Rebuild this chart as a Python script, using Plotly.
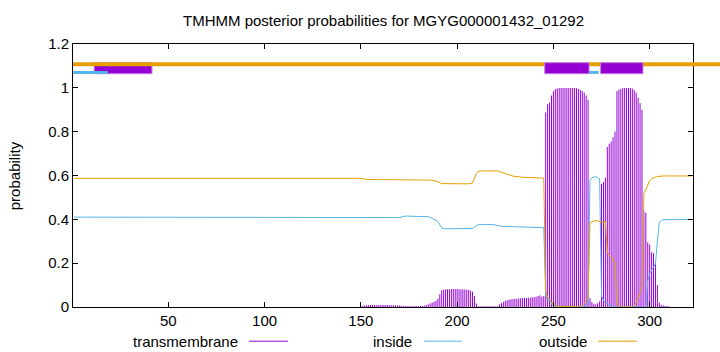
import plotly.graph_objects as go

# ---------------- data ----------------
title_text = "TMHMM posterior probabilities for MGYG000001432_01292"
x_tickvals = [50, 100, 150, 200, 250, 300]
y_tickvals = [0, 0.2, 0.4, 0.6, 0.8, 1.0, 1.2]
legend_names = ["transmembrane", "inside", "outside"]

# transmembrane posterior per residue (residues 150..310; ~0 elsewhere)
tm_res = list(range(150, 311))
tm_prob = [
    0.003, 0.005, 0.007, 0.008, 0.008, 0.009, 0.009, 0.009, 0.009, 0.009,  # 150-159
    0.009, 0.009, 0.009, 0.009, 0.009, 0.008, 0.008, 0.008, 0.008, 0.007,  # 160-169
    0.007, 0.006, 0.005, 0.004, 0.004, 0.004, 0.004, 0.004, 0.004, 0.004,  # 170-179
    0.004, 0.005, 0.005, 0.006, 0.009, 0.012, 0.016, 0.020, 0.024, 0.029,  # 180-189
    0.038, 0.058, 0.077, 0.079, 0.080, 0.081, 0.081, 0.082, 0.082, 0.082,  # 190-199
    0.082, 0.081, 0.081, 0.080, 0.080, 0.079, 0.078, 0.074, 0.070, 0.050,  # 200-209
    0.016, 0.004, 0.003, 0.003, 0.003, 0.003, 0.003, 0.003, 0.003, 0.003,  # 210-219
    0.003, 0.003, 0.012, 0.018, 0.024, 0.028, 0.031, 0.033, 0.035, 0.036,  # 220-229
    0.037, 0.038, 0.039, 0.040, 0.040, 0.041, 0.041, 0.042, 0.043, 0.044,  # 230-239
    0.045, 0.047, 0.050, 0.053, 0.047, 0.050, 0.888, 0.925, 0.932, 0.965,  # 240-249
    0.985, 0.994, 0.997, 0.999, 0.999, 0.999, 0.999, 0.999, 0.999, 0.999,  # 250-259
    0.999, 0.999, 0.998, 0.995, 0.990, 0.985, 0.978, 0.965, 0.945, 0.040,  # 260-269
    0.022, 0.015, 0.012, 0.017, 0.025, 0.562, 0.570, 0.590, 0.730, 0.745,  # 270-279
    0.755, 0.775, 0.800, 0.985, 0.992, 0.995, 0.999, 0.999, 0.999, 0.999,  # 280-289
    0.999, 0.997, 0.990, 0.978, 0.955, 0.930, 0.900, 0.440, 0.430, 0.295,  # 290-299
    0.285, 0.250, 0.245, 0.205, 0.100, 0.020, 0.010, 0.007, 0.005, 0.004,  # 300-309
    0.003,                                                                  # 310
]
assert len(tm_res) == len(tm_prob)

# inside posterior (breakpoints of the curve)
inside_x = [1, 150, 153, 170, 173, 183, 185, 187, 189, 190, 191, 192, 193, 206,
            208, 209, 210, 211, 219, 221, 223, 245, 246, 247, 248, 249, 250, 264,
            266, 267, 268, 269, 270, 272, 273, 274, 275, 276, 277, 278, 279, 280,
            281, 298, 299, 300, 301, 302, 303, 304, 305, 306, 307, 322]
inside_y = [0.410, 0.410, 0.408, 0.408, 0.415, 0.415, 0.412, 0.405, 0.395, 0.390,
            0.375, 0.360, 0.357, 0.356, 0.358, 0.365, 0.372, 0.376, 0.376, 0.372,
            0.368, 0.362, 0.050, 0.035, 0.030, 0.015, 0.005, 0.000, 0.005, 0.005,
            0.015, 0.577, 0.590, 0.595, 0.590, 0.585, 0.050, 0.030, 0.020, 0.015,
            0.010, 0.005, 0.000, 0.000, 0.120, 0.153, 0.170, 0.185, 0.197, 0.300,
            0.385, 0.395, 0.398, 0.400]

# outside posterior (breakpoints of the curve)
outside_x = [1, 150, 153, 183, 186, 188, 190, 191, 192, 206, 208, 209, 210, 211,
             213, 221, 223, 226, 229, 234, 239, 243, 245, 246, 247, 248, 249, 250,
             251, 264, 265, 266, 267, 268, 269, 270, 272, 274, 276, 277, 278, 279,
             280, 281, 282, 283, 284, 285, 291, 292, 293, 294, 295, 296, 297, 298,
             299, 300, 301, 302, 303, 304, 305, 307, 322]
outside_y = [0.587, 0.587, 0.582, 0.581, 0.579, 0.577, 0.572, 0.567, 0.563, 0.562,
             0.566, 0.585, 0.610, 0.618, 0.621, 0.621, 0.615, 0.603, 0.597, 0.592,
             0.591, 0.589, 0.588, 0.070, 0.045, 0.035, 0.020, 0.010, 0.004, 0.000,
             0.005, 0.015, 0.030, 0.045, 0.383, 0.390, 0.395, 0.390, 0.385, 0.390,
             0.250, 0.236, 0.230, 0.220, 0.190, 0.010, 0.005, 0.000, 0.000, 0.005,
             0.020, 0.040, 0.065, 0.090, 0.520, 0.535, 0.555, 0.577, 0.585, 0.590,
             0.593, 0.595, 0.596, 0.598, 0.598]

# predicted topology segments (first residue, last residue)
topo_outside = [(1, 322)]
topo_inside = [(1, 18), (269, 273)]
topo_tm_under = [(12, 41)]
topo_tm = [(246, 268), (275, 296)]

# ---------------- style ----------------
PURPLE = "#9400d3"
CYAN = "#56b4e9"
ORANGE = "#e69f00"
FONT = "Liberation Sans, Arial, sans-serif"
FS = 15

X_RANGE = [0.5, 322.5]
Y_RANGE = [0, 1.2]

# ---------------- figure ----------------
fig = go.Figure()

# transmembrane as impulses
imp_x, imp_y = [], []
for r, p in zip(tm_res, tm_prob):
    imp_x += [r, r, None]
    imp_y += [0, p, None]
fig.add_trace(go.Scatter(x=imp_x, y=imp_y, mode="lines",
                         line=dict(color=PURPLE, width=1), hoverinfo="skip",
                         showlegend=False))
fig.add_trace(go.Scatter(x=inside_x, y=inside_y, mode="lines",
                         line=dict(color=CYAN, width=1), showlegend=False))
fig.add_trace(go.Scatter(x=outside_x, y=outside_y, mode="lines",
                         line=dict(color=ORANGE, width=1), showlegend=False))

shapes = []
TM_LO, TM_HI = 1.0645, 1.1147
IN_Y = 1.0705
OUT_Y = 1.108

for a, b in topo_tm_under:
    shapes.append(dict(type="rect", xref="x", yref="y", x0=a - 0.5, x1=b + 0.5,
                       y0=TM_LO, y1=TM_HI, fillcolor=PURPLE,
                       line=dict(color="#c27ae6", width=1), layer="above"))
# outside line: the original runs it past the right border to the image edge
for a, b in topo_outside:
    shapes.append(dict(type="line", xref="paper", yref="y", x0=0, x1=1.045,
                       y0=OUT_Y, y1=OUT_Y, line=dict(color=ORANGE, width=4),
                       layer="above"))
for a, b in topo_inside:
    shapes.append(dict(type="line", xref="x", yref="y", x0=a - 0.5, x1=b + 0.5,
                       y0=IN_Y, y1=IN_Y, line=dict(color=CYAN, width=3),
                       layer="above"))
for a, b in topo_tm:
    shapes.append(dict(type="rect", xref="x", yref="y", x0=a - 0.5, x1=b + 0.5,
                       y0=TM_LO, y1=TM_HI, fillcolor=PURPLE,
                       line=dict(color="#c27ae6", width=1), layer="above"))

# legend (gnuplot style: text, then line sample)
leg_y = -0.130
leg_text_right = [0.269, 0.550, 0.832]
leg_line = [(0.284, 0.347), (0.566, 0.627), (0.847, 0.910)]
leg_colors = [PURPLE, CYAN, ORANGE]
annotations = []
for name, xr, (l0, l1), c in zip(legend_names, leg_text_right, leg_line, leg_colors):
    annotations.append(dict(text=name, xref="paper", yref="paper", x=xr, y=leg_y,
                            xanchor="right", yanchor="middle", showarrow=False,
                            font=dict(family=FONT, size=FS, color="#000")))
    shapes.append(dict(type="line", xref="paper", yref="paper", x0=l0, x1=l1,
                       y0=leg_y, y1=leg_y, line=dict(color=c, width=1)))

annotations.append(dict(text=title_text, xref="paper", yref="paper", x=0.5, y=1.09,
                        xanchor="center", yanchor="middle", showarrow=False,
                        font=dict(family=FONT, size=FS, color="#000")))
annotations.append(dict(text="probability", xref="paper", yref="paper", x=-0.094,
                        y=0.5, xanchor="center", yanchor="middle", textangle=-90,
                        showarrow=False, font=dict(family=FONT, size=FS, color="#000")))

axis_common = dict(showline=True, linecolor="#000", linewidth=1, mirror="ticks",
                   ticks="inside", ticklen=5, tickcolor="#000", showgrid=False,
                   zeroline=False, tickfont=dict(family=FONT, size=FS, color="#000"))

fig.update_layout(
    width=720, height=352, autosize=False,
    margin=dict(l=73, r=27, t=44, b=45, pad=0),
    paper_bgcolor="white", plot_bgcolor="white",
    showlegend=False,
    xaxis=dict(range=X_RANGE, tickvals=x_tickvals, **axis_common),
    yaxis=dict(range=Y_RANGE, tickvals=y_tickvals, **axis_common),
    shapes=shapes, annotations=annotations,
)

fig.write_html("out.html")
